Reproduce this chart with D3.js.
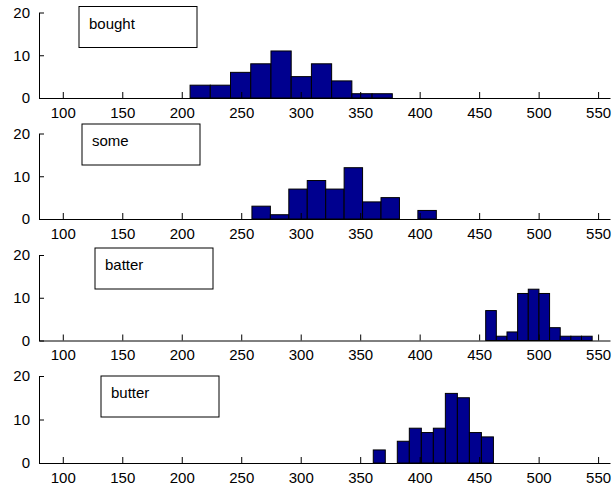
<!DOCTYPE html>
<html>
<head>
<meta charset="utf-8">
<script src="https://cdn.jsdelivr.net/npm/d3@7"></script>
<style>
  body { margin: 0; background: #fff; }
  text { font-family: "Liberation Sans", Arial, sans-serif; fill: #000; }
</style>
</head>
<body>
<script>
// word labels, one histogram per word
const words = ['bought', 'some', 'batter', 'butter'];

// histogram range (min, max of data) per word, 10 equal bins each
const binLo = [207, 259, 455.5, 361];
const binHi = [377, 414, 545, 462];

// bin counts
const countsBought = [3, 3, 6, 8, 11, 5, 8, 4, 1, 1];
const countsSome   = [3, 1, 7, 9, 7, 12, 4, 5, 0, 2];
const countsBatter = [7, 1, 2, 11, 12, 11, 3, 1, 1, 1];
const countsButter = [3, 0, 5, 8, 7, 8, 16, 15, 7, 6];
const allCounts = [countsBought, countsSome, countsBatter, countsButter];

const xTicks = [100, 150, 200, 250, 300, 350, 400, 450, 500, 550];
const yTicks = [0, 10, 20];

// layout
const W = 612, H = 491;
const left = 39, right = 610;
const panelTop = [12.5, 133.5, 255, 376];
const panelBottom = [98, 219, 340.5, 463];
const legendX = [79, 82, 95, 101];
const legendY = [6.5, 124, 248, 376];
const legendW = 118, legendH = 41;

const svg = d3.select('body')
    .append('svg')
    .attr('width', W)
    .attr('height', H);

const x = d3.scaleLinear().domain([80, 560]).range([left, right]);

words.forEach((word, p) => {
    const y = d3.scaleLinear().domain([0, 20]).range([panelBottom[p], panelTop[p]]);
    const g = svg.append('g');

    // bars
    const counts = allCounts[p];
    const step = (binHi[p] - binLo[p]) / counts.length;
    g.selectAll('rect')
        .data(counts)
        .enter()
        .append('rect')
        .attr('x', (d, i) => x(binLo[p] + i * step))
        .attr('width', x(binLo[p] + step) - x(binLo[p]))
        .attr('y', d => y(d))
        .attr('height', d => y(0) - y(d))
        .attr('fill', '#00008f')
        .attr('stroke', '#000')
        .attr('stroke-width', 1);

    // x axis, ticks pointing inward
    const xAxis = d3.axisBottom(x)
        .tickValues(xTicks)
        .tickSizeInner(-6)
        .tickSizeOuter(0)
        .tickPadding(9);
    const gx = g.append('g')
        .attr('transform', `translate(0,${panelBottom[p]})`)
        .call(xAxis);
    gx.selectAll('text').style('font-size', '15px').attr('fill', '#000');

    // y axis
    const yAxis = d3.axisLeft(y)
        .tickValues(yTicks)
        .tickSizeInner(-5)
        .tickSizeOuter(0)
        .tickPadding(9);
    const gy = g.append('g')
        .attr('transform', `translate(${left},0)`)
        .call(yAxis);
    gy.selectAll('text').style('font-size', '15px').attr('fill', '#000');

    g.selectAll('.domain').attr('stroke', '#000');
    g.selectAll('.tick line').attr('stroke', '#000');

    // legend box
    g.append('rect')
        .attr('x', legendX[p])
        .attr('y', legendY[p])
        .attr('width', legendW)
        .attr('height', legendH)
        .attr('fill', '#fff')
        .attr('stroke', '#000');
    g.append('text')
        .attr('x', legendX[p] + 10)
        .attr('y', legendY[p] + 22)
        .style('font-size', '15px')
        .text(word);
});
</script>
</body>
</html>
